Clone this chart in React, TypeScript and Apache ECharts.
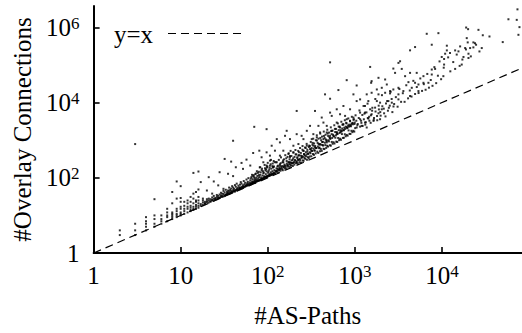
import React, { useEffect, useRef } from 'react';
import * as echarts from 'echarts';

const FONT = 'Liberation Serif, Times New Roman, serif';

const xTickValues = [1, 10, 100, 1000, 10000];
const yTickValues = [1, 100, 10000, 1000000];
const xMin = 1;
const xMax = 83200;
const yMin = 1;
const yMax = 3720000;
const xTitle = '#AS-Paths';
const yTitle = '#Overlay Connections';
const refName = 'y=x';
const refLine = [[1, 1], [83200, 83200]];

// small path counts: discrete columns
const lowColumns = [
  [2, 3], [2, 4],
  [3, 3], [3, 4], [3, 6],
  [4, 4], [4, 5], [4, 6], [4, 7], [4, 9],
  [5, 5], [5, 6], [5, 8], [5, 10],
  [6, 6], [6, 7], [6, 8], [6, 10],
  [7, 7], [7, 9], [7, 10], [7, 12], [7, 15],
  [8, 8], [8, 9], [8, 10], [8, 11], [8, 12], [8, 21],
  [9, 9], [9, 10], [9, 11], [9, 13], [9, 15], [9, 28],
  [10, 10], [10, 11], [10, 12], [10, 15], [10, 17], [10, 23], [10, 29],
  [11, 11], [11, 13], [11, 15], [11, 18], [11, 23],
  [12, 12], [12, 15], [12, 17], [12, 21], [12, 25],
  [13, 13], [13, 14], [13, 16], [13, 18], [13, 23], [13, 31],
  [14, 14], [14, 15], [14, 17], [14, 21], [14, 28], [14, 38],
  [15, 15], [15, 17], [15, 19], [15, 23], [15, 25], [15, 42],
  [16, 16], [16, 18], [16, 21], [16, 25], [16, 31], [16, 49],
];

// scattered points above the band, left part
const sparseLeft = [
  [3, 790], [5, 27], [8, 42], [9, 80], [10, 60], [14, 135], [16, 147],
  [70, 2270], [40, 968], [68, 458], [80, 527], [32, 318], [38, 270],
  [50, 249], [57, 305], [63, 212], [43, 191], [52, 173], [28, 141],
  [35, 128], [40, 111], [21, 104], [17, 77], [24, 80], [27, 63],
  [31, 51], [20, 46], [23, 38], [18, 28],
];

// band, 17..30 paths
const bandA = [
  [17, 18], [17, 20], [18, 19], [18, 22], [18, 25], [19, 20], [19, 23], [19, 21],
  [20, 22], [20, 24], [20, 27], [21, 22], [21, 25], [21, 28], [22, 23], [22, 27],
  [22, 24], [23, 25], [23, 26], [23, 30], [24, 25], [24, 28], [24, 33], [25, 26],
  [25, 29], [25, 27], [26, 27], [26, 31], [26, 35], [27, 29], [27, 28], [27, 33],
  [28, 30], [28, 36], [28, 29], [29, 31], [29, 34], [29, 40], [30, 31], [30, 33], [30, 38],
];

// band, 31..60 paths
const bandB = [
  [31, 32], [31, 37], [31, 45], [32, 34], [32, 33], [32, 41], [33, 36], [33, 35],
  [33, 48], [34, 37], [34, 42], [34, 36], [35, 38], [35, 46], [35, 40], [36, 37],
  [36, 44], [36, 55], [37, 40], [37, 39], [37, 48], [38, 41], [38, 52], [38, 45],
  [39, 42], [39, 40], [39, 60], [40, 43], [40, 47], [40, 55], [41, 44], [41, 51],
  [42, 46], [42, 43], [42, 64], [43, 47], [43, 58], [44, 46], [44, 50], [44, 70],
  [45, 49], [45, 54], [46, 48], [46, 62], [47, 51], [47, 56], [48, 50], [48, 66],
  [48, 53], [49, 54], [49, 77], [50, 52], [50, 58], [50, 70], [51, 55], [52, 57],
  [52, 63], [53, 58], [53, 82], [54, 57], [54, 67], [55, 59], [55, 74], [56, 62],
  [56, 60], [57, 65], [57, 90], [58, 62], [58, 71], [59, 64], [59, 78], [60, 63],
  [60, 69], [60, 98],
];

// band, 62..120 paths
const bandC = [
  [62, 66], [62, 75], [63, 68], [63, 85], [64, 67], [64, 72], [65, 70], [65, 105],
  [66, 71], [66, 80], [67, 72], [67, 92], [68, 73], [68, 78], [69, 75], [69, 118],
  [70, 74], [70, 85], [71, 78], [71, 96], [72, 76], [72, 88], [73, 80], [73, 130],
  [74, 79], [74, 100], [75, 81], [75, 90], [76, 82], [76, 112], [77, 84], [78, 83],
  [78, 97], [79, 86], [79, 145], [80, 85], [80, 105], [81, 88], [82, 87], [82, 120],
  [83, 91], [84, 89], [84, 102], [85, 93], [85, 160], [86, 92], [87, 96], [87, 115],
  [88, 94], [89, 98], [89, 132], [90, 96], [91, 101], [91, 110], [92, 99], [93, 104],
  [93, 180], [94, 101], [95, 106], [95, 125], [96, 103], [97, 109], [97, 148], [98, 106],
  [99, 112], [99, 200], [100, 108], [101, 115], [101, 136], [103, 112], [104, 120], [104, 165],
  [105, 113], [106, 125], [107, 117], [108, 140], [108, 230], [110, 119], [111, 130], [112, 122],
  [113, 150], [114, 126], [115, 190], [116, 127], [117, 138], [118, 130], [119, 160], [120, 131],
  [120, 260],
  [64, 96], [68, 110], [72, 125], [75, 150], [79, 118], [83, 140], [86, 175], [90, 138],
  [94, 160], [98, 190], [102, 150], [106, 210], [110, 175], [114, 240], [118, 200], [66, 120],
  [70, 104], [77, 135], [81, 190], [88, 150], [92, 220], [96, 170], [100, 250], [105, 185],
  [109, 300], [113, 205], [117, 280],
];

// band, 122..300 paths
const bandD = [
  [122, 132], [125, 151], [127, 144], [130, 172], [132, 139], [135, 159], [137, 174], [140, 154],
  [143, 200], [146, 168], [149, 159], [152, 188], [155, 209], [158, 177], [161, 192], [164, 171],
  [168, 217], [171, 198], [175, 254], [179, 195], [182, 222], [186, 212], [190, 249], [194, 206],
  [198, 249], [202, 224], [207, 286], [211, 247], [216, 259], [221, 239], [226, 301], [231, 261],
  [236, 295], [241, 253], [247, 351], [252, 290], [258, 284], [264, 338], [270, 319], [276, 375],
  [282, 302], [289, 355], [296, 332],
  [123, 150], [126, 178], [128, 155], [131, 210], [133, 165], [136, 190], [139, 172], [141, 245],
  [144, 183], [147, 205], [150, 290], [153, 195], [156, 225], [160, 210], [163, 330], [166, 240],
  [170, 215], [173, 265], [177, 230], [180, 380], [184, 250], [188, 290], [192, 240], [196, 330],
  [200, 262], [205, 300], [209, 420], [214, 275], [218, 350], [223, 300], [228, 480], [233, 320],
  [239, 390], [244, 340], [250, 560], [255, 365], [261, 430], [267, 390], [273, 620], [279, 420],
  [286, 500], [292, 445], [299, 720],
  [124, 260], [129, 200], [134, 300], [138, 230], [142, 350], [148, 260], [154, 310], [159, 400],
  [165, 280], [169, 360], [174, 450], [178, 310], [183, 520], [187, 380], [193, 300], [197, 470],
  [203, 360], [208, 550], [213, 420], [219, 330], [224, 520], [229, 400], [235, 620], [240, 460],
  [246, 380], [251, 700], [257, 520], [262, 420], [268, 640], [274, 480], [280, 800], [285, 560],
  [291, 430], [297, 660],
];

// band, 300..1000 paths
const bandE = [
  [303, 370], [310, 450], [317, 374], [324, 518], [331, 430], [339, 407], [347, 527], [355, 447],
  [363, 617], [371, 497], [380, 460], [389, 615], [398, 509], [407, 586], [417, 521], [427, 747],
  [437, 594], [447, 581], [458, 742], [469, 624], [481, 712], [492, 679], [504, 932], [517, 734],
  [530, 716], [543, 901], [556, 806], [570, 884], [584, 818], [598, 1166], [613, 920], [628, 898],
  [644, 1146], [660, 1003], [677, 1097], [694, 1027], [711, 1458], [729, 1152], [748, 1159], [767, 1442],
  [786, 1273], [806, 1386], [827, 1323], [848, 1823], [869, 1477], [891, 1470], [914, 1782], [937, 1640],
  [961, 1778], [986, 1696],
  [306, 480], [313, 560], [320, 520], [328, 850], [335, 600], [343, 540], [350, 700], [359, 620],
  [367, 980], [376, 680], [384, 800], [393, 640], [402, 1150], [412, 760], [421, 900], [432, 720],
  [442, 1300], [453, 860], [464, 1050], [475, 940], [487, 1500], [498, 1000], [511, 1200], [523, 1080],
  [536, 1750], [549, 1150], [563, 1400], [577, 1260], [591, 2000], [606, 1350], [621, 1620], [636, 1480],
  [652, 2300], [669, 1560], [685, 1850], [702, 1700], [720, 2600], [738, 1850], [757, 2150], [776, 2000],
  [796, 2900], [816, 2200], [837, 2450], [858, 2300], [880, 3300], [903, 2600], [926, 2800], [949, 2650],
  [973, 3600], [998, 2950],
  [305, 700], [312, 900], [318, 620], [326, 760], [333, 1100], [341, 820], [349, 640], [357, 1000],
  [366, 1350], [374, 850], [383, 1100], [392, 760], [401, 1500], [410, 1000], [420, 1250], [430, 900],
  [440, 1700], [450, 1150], [461, 1400], [472, 1000], [483, 1900], [494, 1300], [506, 1600], [518, 1150],
  [530, 2200], [542, 1450], [555, 1800], [568, 1300], [581, 2500], [595, 1650], [609, 2000], [623, 1450],
  [638, 2800], [653, 1850], [668, 2300], [684, 1650], [700, 3100], [716, 2050], [733, 2600], [750, 1850],
  [768, 3400], [786, 2300], [804, 2800], [823, 2100], [842, 3800], [862, 2600], [882, 3200], [903, 2350],
  [924, 4200], [946, 2900], [968, 3500], [990, 2700],
];

// band continuation, 1000..2800 paths
const bandF = [
  [1010, 2100], [1040, 3300], [1070, 2500], [1110, 3900], [1150, 2300], [1190, 2900], [1220, 4700],
  [1270, 3600], [1320, 2600], [1360, 5500], [1410, 3900], [1470, 3300], [1530, 4600], [1590, 7300],
  [1660, 3900], [1730, 5800], [1810, 3400], [1890, 6600], [1980, 4500], [2070, 8000], [2170, 5200],
  [2280, 9500], [2400, 6100], [2520, 8300], [2650, 12500], [2780, 7900],
];

// middle region, 80..1300 paths, upper part of the cloud
const midRegion = [
  [6700, 678000], [9120, 705000], [520, 118000], [807, 39600],
  [455, 16600], [520, 12700], [648, 21600], [1050, 28600], [964, 16600],
  [1150, 12200], [215, 6010], [349, 6010], [620, 6650], [740, 8150],
  [882, 6650], [1050, 11000], [1260, 8150], [1150, 5430], [520, 5430],
  [543, 4440], [677, 4910], [773, 4440], [807, 3620], [964, 4010],
  [1150, 3620], [417, 4010], [436, 2950], [476, 2410], [620, 2950],
  [677, 2180], [740, 2670], [807, 2180], [882, 2410], [1050, 2180],
  [1200, 2410], [382, 2410], [306, 2410], [281, 1780], [334, 1450],
  [399, 1610], [476, 1610], [543, 1780], [620, 1610], [708, 1780],
  [320, 1070], [366, 1190], [436, 1070], [520, 1310], [165, 1780],
  [158, 1310], [180, 1070], [215, 1450], [245, 1310], [257, 1070],
  [127, 1070], [138, 875], [197, 714], [225, 791], [281, 714],
  [334, 714], [399, 791], [476, 875], [97, 1970], [111, 714],
  [121, 527], [151, 527], [173, 431], [97, 476], [106, 389],
  [138, 389], [180, 352], [197, 476], [225, 389], [257, 527],
  [306, 583], [85, 352], [89, 259], [106, 287], [127, 259],
  [151, 259], [180, 259], [82, 191], [97, 212], [116, 191], [138, 212],
];

// upper-middle region, 1000..10000 paths
const upperMid = [
  [1310, 5430], [1560, 4910], [1870, 5210], [1430, 3770], [1640, 3270],
  [1310, 2960], [1950, 3620], [1370, 2180], [1310, 8150], [1500, 6650],
  [1710, 7360], [2040, 6650], [1430, 11000], [1790, 11000], [1950, 9980],
  [2430, 11000], [2660, 9980], [3170, 12200], [1370, 16600], [1560, 18300],
  [1870, 16600], [2230, 18300], [2540, 17600], [3170, 16600], [4310, 15000],
  [1790, 22400], [2040, 24800], [2540, 20300], [2770, 22400], [3170, 24800],
  [3610, 20300], [4130, 35100], [4920, 33700], [5380, 30400], [6140, 33700],
  [7000, 33700], [4510, 24800], [5380, 20300], [1500, 89100], [1870, 45700],
  [2230, 41300], [1560, 37300], [2330, 30400], [1540, 33700], [3310, 126000],
  [3170, 114000], [2770, 80500], [3460, 78900], [2900, 61900], [3780, 50600],
  [4310, 61900], [5140, 61900], [6140, 50600], [7650, 56000], [4920, 301000],
  [4310, 246000], [7650, 347000], [8360, 78900], [7650, 75900],
  [1020, 4600], [1080, 2700], [1130, 6200], [1180, 3300], [1230, 2400], [1290, 5100],
  [1340, 3000], [1400, 9400], [1460, 4200], [1520, 2900], [1580, 6100], [1650, 3500],
  [1720, 12500], [1800, 4400], [1880, 8300], [1960, 5600], [2050, 15800], [2150, 6900],
  [2250, 4300], [2350, 11000], [2460, 7300], [2580, 19500], [2700, 5600], [2830, 9200],
  [2960, 14000], [3100, 7800], [3250, 23000], [3400, 10500], [3560, 17800], [3730, 10500],
  [3900, 29000], [4090, 13000], [4280, 21000], [4480, 14500], [4700, 38000], [4920, 17000],
  [5150, 26000], [5400, 18000], [5650, 44000], [5920, 20500], [6200, 31000], [6500, 22000],
  [6800, 58000], [7100, 25000], [7450, 40000], [7800, 28000], [8200, 88000], [8600, 33000],
  [9000, 52000], [9400, 125000], [9800, 42000],
];

// top-right region, 10000+ paths
const upperRight = [
  [73800, 3030000], [58100, 1650000], [72400, 1590000], [77800, 1020000],
  [75700, 637000], [19000, 995000], [20000, 900000], [26300, 863000],
  [35200, 575000], [50000, 408000], [19300, 520000], [23000, 400000],
  [19800, 400000], [24700, 347000], [11400, 327000], [16200, 313000],
  [18500, 283000], [21100, 283000], [23000, 295000], [28700, 283000],
  [11400, 245000], [14200, 245000], [15500, 231000], [10900, 200000],
  [12400, 209000], [9960, 164000], [10600, 145000], [20200, 200000],
  [17700, 164000], [20200, 154000], [10600, 103000], [14200, 78900],
  [16900, 103000], [10400, 50600],
  [10500, 85000], [11800, 160000], [12500, 68000], [13500, 120000], [14800, 190000],
  [16000, 95000], [17200, 140000], [18900, 260000], [21500, 170000], [24000, 380000],
  [27000, 230000], [29500, 620000],
];

const scatterData = [
  ...lowColumns, ...sparseLeft, ...bandA, ...bandB, ...bandC, ...bandD, ...bandE,
  ...bandF, ...midRegion, ...upperMid, ...upperRight,
];

function tickLabel(v: number): string {
  const e = Math.round(Math.log10(v));
  if (e === 0) return '{b|1}';
  if (e === 1) return '{b|10}';
  return '{b|10}{s|' + e + '}';
}

const rich = {
  b: {
    fontFamily: FONT, fontSize: 25, lineHeight: 25, color: '#000',
    padding: [4, 0, 0, 0], verticalAlign: 'bottom',
  },
  s: {
    fontFamily: FONT, fontSize: 17, lineHeight: 17, color: '#000',
    verticalAlign: 'top',
  },
};

export default function App() {
  const ref = useRef<HTMLDivElement>(null);
  useEffect(() => {
    if (!ref.current) return;
    const chart = echarts.init(ref.current, null, { renderer: 'svg' });
    chart.setOption({
      animation: false,
      backgroundColor: '#fff',
      grid: { left: 93.6, right: 0, top: 6, bottom: 78.3, containLabel: false },
      graphic: [
        {
          type: 'text',
          left: 114,
          top: 22,
          style: { text: refName, fontFamily: FONT, fontSize: 25, fill: '#000' },
          silent: true,
        },
        {
          type: 'line',
          shape: { x1: 168, y1: 33.5, x2: 244, y2: 33.5 },
          style: { stroke: '#000', lineWidth: 1.2, lineDash: [8, 5] },
          silent: true,
        },
      ],
      xAxis: {
        type: 'log',
        logBase: 10,
        min: xMin,
        max: xMax,
        name: xTitle,
        nameLocation: 'middle',
        nameGap: 50,
        nameTextStyle: { fontFamily: FONT, fontSize: 25, color: '#000' },
        axisLine: { show: true, lineStyle: { color: '#000', width: 2 } },
        axisTick: { show: true, inside: true, length: 6, lineStyle: { color: '#000', width: 1.6 }, customValues: xTickValues },
        axisLabel: { margin: 10, formatter: tickLabel, rich, customValues: xTickValues },
        splitLine: { show: false },
        minorTick: { show: false },
      },
      yAxis: {
        type: 'log',
        logBase: 10,
        min: yMin,
        max: yMax,
        name: yTitle,
        nameLocation: 'middle',
        nameGap: 57,
        nameTextStyle: { fontFamily: FONT, fontSize: 25, color: '#000' },
        axisLine: { show: true, lineStyle: { color: '#000', width: 2 } },
        axisTick: { show: true, inside: true, length: 6, lineStyle: { color: '#000', width: 1.6 }, customValues: yTickValues },
        axisLabel: { margin: 14, formatter: tickLabel, rich, customValues: yTickValues },
        splitLine: { show: false },
        minorTick: { show: false },
      },
      series: [
        {
          name: 'paths',
          type: 'scatter',
          data: scatterData,
          symbol: 'rect',
          symbolSize: 2,
          itemStyle: { color: '#000' },
          silent: true,
        },
        {
          name: refName,
          type: 'line',
          data: refLine,
          symbol: 'none',
          lineStyle: { color: '#000', width: 1.2, type: [8, 5] },
          silent: true,
        },
      ],
    });
    return () => chart.dispose();
  }, []);
  return <div ref={ref} style={{ position: 'absolute', left: 0, top: 0, width: 522, height: 333 }} />;
}
